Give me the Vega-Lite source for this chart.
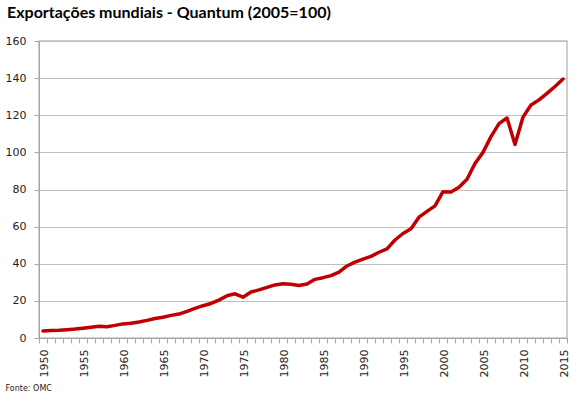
{
  "$schema": "https://vega.github.io/schema/vega-lite/v6.json",
  "autosize": {"type": "none"},
  "width": 528,
  "height": 297,
  "padding": {"left": 39, "top": 41, "right": 10, "bottom": 61},
  "background": "white",
  "title": {
    "text": "Exportações mundiais - Quantum (2005=100)",
    "anchor": "start",
    "frame": "group",
    "dx": -32,
    "offset": 14,
    "font": "Lato",
    "fontSize": 16,
    "fontWeight": "bold",
    "color": "#000000"
  },
  "config": {
    "view": {"stroke": "#bfbfbf", "strokeWidth": 1.5},
    "axis": {
      "labelFont": "DejaVu Sans",
      "labelFontSize": 11,
      "labelColor": "#222222",
      "domainColor": "#a6a6a6",
      "tickColor": "#a6a6a6",
      "gridColor": "#bfbfbf"
    }
  },
  "resolve": {"scale": {"x": "independent"}, "axis": {"x": "independent"}},
  "data": {
    "values": [
      {"ano": 1950, "q": 3.8}, {"ano": 1951, "q": 4.0}, {"ano": 1952, "q": 4.2}, {"ano": 1953, "q": 4.5},
      {"ano": 1954, "q": 4.8}, {"ano": 1955, "q": 5.3}, {"ano": 1956, "q": 5.8}, {"ano": 1957, "q": 6.3},
      {"ano": 1958, "q": 6.1}, {"ano": 1959, "q": 6.8}, {"ano": 1960, "q": 7.6}, {"ano": 1961, "q": 8.0},
      {"ano": 1962, "q": 8.6}, {"ano": 1963, "q": 9.5}, {"ano": 1964, "q": 10.5}, {"ano": 1965, "q": 11.2},
      {"ano": 1966, "q": 12.2}, {"ano": 1967, "q": 12.9}, {"ano": 1968, "q": 14.3}, {"ano": 1969, "q": 16.0},
      {"ano": 1970, "q": 17.4}, {"ano": 1971, "q": 18.6}, {"ano": 1972, "q": 20.4}, {"ano": 1973, "q": 22.8},
      {"ano": 1974, "q": 23.8}, {"ano": 1975, "q": 22.0}, {"ano": 1976, "q": 24.8}, {"ano": 1977, "q": 25.9},
      {"ano": 1978, "q": 27.3}, {"ano": 1979, "q": 28.6}, {"ano": 1980, "q": 29.2}, {"ano": 1981, "q": 29.0},
      {"ano": 1982, "q": 28.3}, {"ano": 1983, "q": 29.1}, {"ano": 1984, "q": 31.6}, {"ano": 1985, "q": 32.5},
      {"ano": 1986, "q": 33.6}, {"ano": 1987, "q": 35.5}, {"ano": 1988, "q": 38.8}, {"ano": 1989, "q": 40.9},
      {"ano": 1990, "q": 42.5}, {"ano": 1991, "q": 44.0}, {"ano": 1992, "q": 46.2}, {"ano": 1993, "q": 48.0},
      {"ano": 1994, "q": 52.8}, {"ano": 1995, "q": 56.3}, {"ano": 1996, "q": 58.8}, {"ano": 1997, "q": 65.1},
      {"ano": 1998, "q": 68.2}, {"ano": 1999, "q": 71.2}, {"ano": 2000, "q": 78.8}, {"ano": 2001, "q": 78.6},
      {"ano": 2002, "q": 81.2}, {"ano": 2003, "q": 85.5}, {"ano": 2004, "q": 94.0}, {"ano": 2005, "q": 100.0},
      {"ano": 2006, "q": 108.5}, {"ano": 2007, "q": 115.5}, {"ano": 2008, "q": 118.5}, {"ano": 2009, "q": 104.3},
      {"ano": 2010, "q": 119.0}, {"ano": 2011, "q": 125.5}, {"ano": 2012, "q": 128.3}, {"ano": 2013, "q": 131.8},
      {"ano": 2014, "q": 135.5}, {"ano": 2015, "q": 139.5}
    ]
  },
  "layer": [
    {
      "mark": {"type": "line", "color": "#c00000", "strokeWidth": 3.5, "strokeCap": "round", "strokeJoin": "round"},
      "encoding": {
        "x": {
          "field": "ano",
          "type": "quantitative",
          "scale": {"domain": [1949.5, 2015.5], "nice": false, "zero": false},
          "axis": {
            "orient": "bottom",
            "values": [1949.5,1950.5,1951.5,1952.5,1953.5,1954.5,1955.5,1956.5,1957.5,1958.5,1959.5,1960.5,1961.5,1962.5,1963.5,1964.5,1965.5,1966.5,1967.5,1968.5,1969.5,1970.5,1971.5,1972.5,1973.5,1974.5,1975.5,1976.5,1977.5,1978.5,1979.5,1980.5,1981.5,1982.5,1983.5,1984.5,1985.5,1986.5,1987.5,1988.5,1989.5,1990.5,1991.5,1992.5,1993.5,1994.5,1995.5,1996.5,1997.5,1998.5,1999.5,2000.5,2001.5,2002.5,2003.5,2004.5,2005.5,2006.5,2007.5,2008.5,2009.5,2010.5,2011.5,2012.5,2013.5,2014.5,2015.5],
            "labels": false,
            "grid": false,
            "tickSize": 5,
            "title": null
          }
        },
        "y": {
          "field": "q",
          "type": "quantitative",
          "scale": {"domain": [0, 160], "nice": false},
          "axis": {
            "values": [0, 20, 40, 60, 80, 100, 120, 140, 160],
            "grid": true,
            "tickSize": 5,
            "labelPadding": 8,
            "title": null
          }
        }
      }
    },
    {
      "mark": {"type": "line", "opacity": 0},
      "encoding": {
        "x": {
          "field": "ano",
          "type": "quantitative",
          "scale": {"domain": [1949.5, 2015.5], "nice": false, "zero": false},
          "axis": {
            "orient": "bottom",
            "values": [1950,1955,1960,1965,1970,1975,1980,1985,1990,1995,2000,2005,2010,2015],
            "format": "d",
            "labelAngle": 270,
            "labelAlign": "right",
            "labelBaseline": "middle",
            "labelPadding": 11,
            "labelOffset": 1,
            "ticks": false,
            "domain": false,
            "grid": false,
            "title": "Fonte: OMC",
            "titleAnchor": "start",
            "titleAlign": "left",
            "titleX": -34,
            "titleY": 52,
            "titleBaseline": "alphabetic",
            "titleFont": "DejaVu Sans",
            "titleFontSize": 8,
            "titleFontWeight": "normal",
            "titleColor": "#222222"
          }
        },
        "y": {
          "field": "q",
          "type": "quantitative",
          "scale": {"domain": [0, 160], "nice": false},
          "axis": {
            "values": [0, 20, 40, 60, 80, 100, 120, 140, 160],
            "grid": true,
            "tickSize": 5,
            "labelPadding": 8,
            "title": null
          }
        }
      }
    }
  ]
}
